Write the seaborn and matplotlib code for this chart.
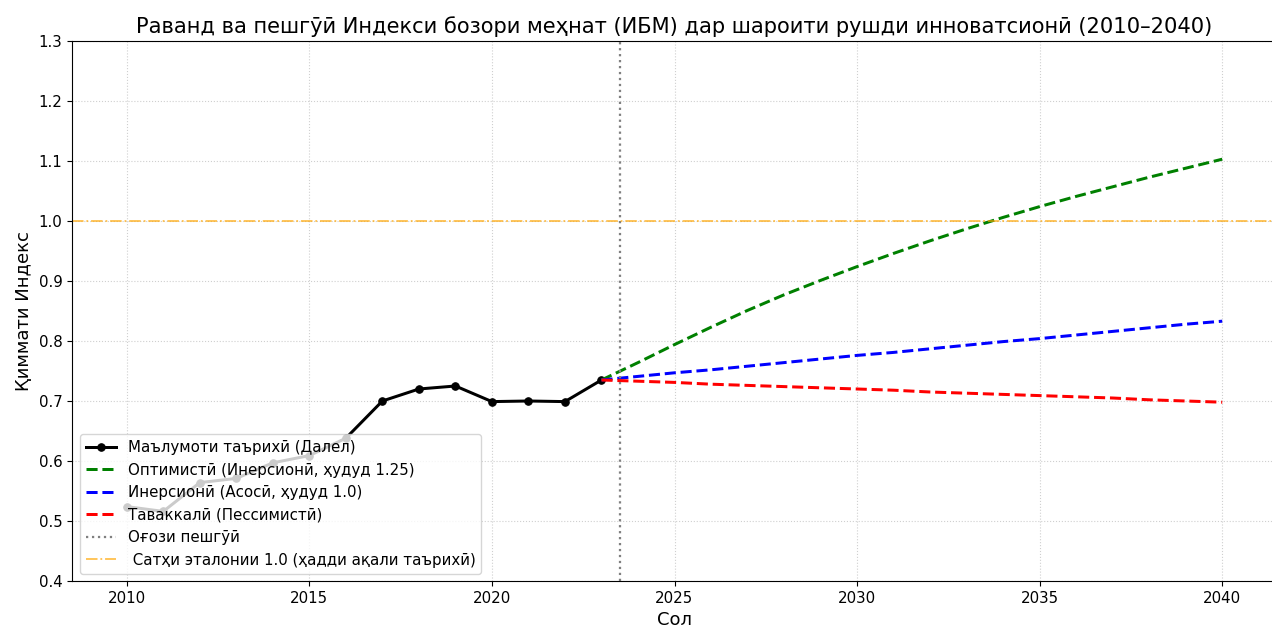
import numpy as np
import pandas as pd
import matplotlib
matplotlib.use("Agg")
import matplotlib.pyplot as plt
import seaborn as sns

# historical index values
hist_years = list(range(2010, 2024))
hist_vals = [0.524, 0.516, 0.564, 0.571, 0.597, 0.609, 0.638,
             0.700, 0.720, 0.725, 0.699, 0.700, 0.699, 0.735]

# scenario projections
proj_years = list(range(2023, 2041))
optimistic = [0.735, 0.764, 0.794, 0.823, 0.851, 0.877, 0.901, 0.924, 0.946,
              0.967, 0.987, 1.006, 1.024, 1.041, 1.057, 1.073, 1.088, 1.103]
inertial = [0.735, 0.741, 0.747, 0.752, 0.758, 0.764, 0.770, 0.776, 0.781,
            0.787, 0.793, 0.799, 0.804, 0.810, 0.816, 0.822, 0.828, 0.833]
risky = [0.735, 0.733, 0.731, 0.728, 0.726, 0.724, 0.722, 0.720, 0.718,
         0.715, 0.713, 0.711, 0.709, 0.707, 0.705, 0.702, 0.700, 0.698]

forecast_start = 2023.5
ref_level = 1.0

lbl_hist = "Маълумоти таърихӣ (Далел)"
lbl_opt = "Оптимистӣ (Инерсионӣ, ҳудуд 1.25)"
lbl_in = "Инерсионӣ (Асосӣ, ҳудуд 1.0)"
lbl_risk = "Таваккалӣ (Пессимистӣ)"
lbl_start = "Оғози пешгӯӣ"
lbl_ref = " Сатҳи эталонии 1.0 (ҳадди ақали таърихӣ)"

s = 1.08  # the reference looks a touch scaled up
plt.rcParams["xtick.labelsize"] = 10 * s
plt.rcParams["ytick.labelsize"] = 10 * s

fig, ax = plt.subplots(figsize=(12.72, 6.28), dpi=100)
# reference is cropped on the right, so the axes run slightly past the edge
ax.set_position([72 / 1272, 1 - 581 / 628, (1277 - 72) / 1272, 540 / 628])

hist = pd.DataFrame({"year": hist_years, "val": hist_vals})
sns.lineplot(data=hist, x="year", y="val", ax=ax, color="black", lw=2 * s,
             marker="o", markersize=5 * s, markeredgecolor="black", label=lbl_hist)

for vals, col, lbl in [(optimistic, "green", lbl_opt),
                       (inertial, "blue", lbl_in),
                       (risky, "red", lbl_risk)]:
    df = pd.DataFrame({"year": proj_years, "val": vals})
    sns.lineplot(data=df, x="year", y="val", ax=ax, color=col, lw=2 * s,
                 linestyle="--", label=lbl)

ax.axvline(forecast_start, color="gray", linestyle=":", lw=1.5 * s, label=lbl_start)
ax.axhline(ref_level, color="orange", linestyle="-.", lw=1.2 * s, alpha=0.7, label=lbl_ref)

ax.set_ylim(0.4, 1.3)
ax.set_title("Раванд ва пешгӯӣ Индекси бозори меҳнат (ИБМ) дар шароити рушди инноватсионӣ (2010–2040)",
             fontsize=14 * s)
ax.set_xlabel("Сол", fontsize=12 * s)
ax.set_ylabel("Қиммати Индекс", fontsize=12 * s)
ax.grid(True, linestyle=":", alpha=0.6)
ax.legend(loc="lower left", fontsize=10 * s)

plt.savefig("out.png", dpi=100)
